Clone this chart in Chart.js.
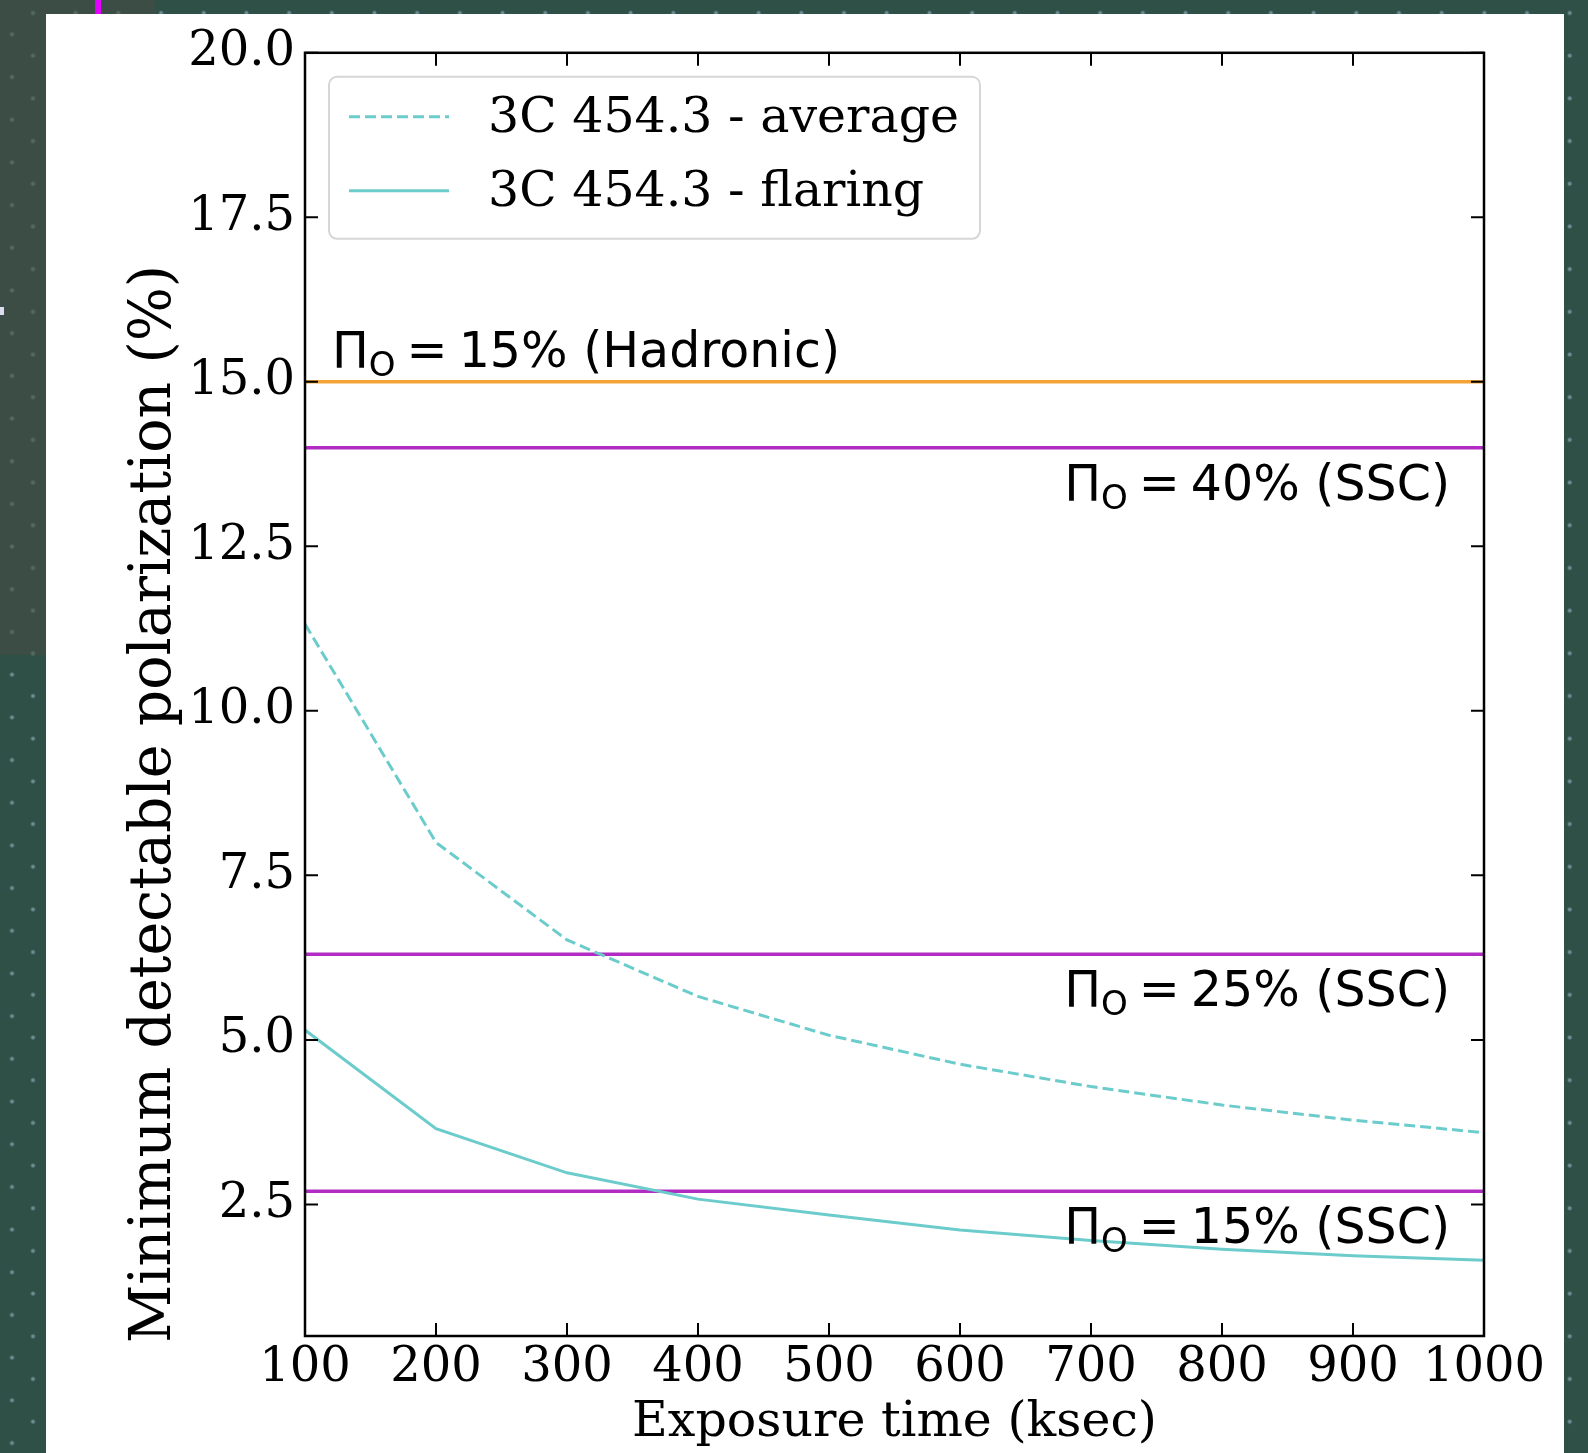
<!DOCTYPE html>
<html>
<head>
<meta charset="utf-8">
<script src="https://cdn.jsdelivr.net/npm/chart.js@4"></script>
<style>
  html, body { margin: 0; padding: 0; }
  body {
    width: 1588px; height: 1453px; position: relative; overflow: hidden;
    background-color: #2f5046;
    background-image:
      radial-gradient(circle, #6a8d92 1.6px, rgba(0,0,0,0) 2.4px),
      radial-gradient(circle, #6a8d92 1.6px, rgba(0,0,0,0) 2.4px);
    background-size: 42.7px 42.7px, 42.7px 42.7px;
    background-position: 11.65px -8.35px, -9.35px 13px;
  }
  #shade {
    position: absolute; left: 0; top: 0; width: 155px; height: 655px;
    background-color: #3b4d45;
    background-image:
      radial-gradient(circle, #56695f 1.6px, rgba(0,0,0,0) 2.6px),
      radial-gradient(circle, #56695f 1.6px, rgba(0,0,0,0) 2.6px);
    background-size: 42.7px 42.7px, 42.7px 42.7px;
    background-position: 11.65px -8.35px, -9.35px 13px;
  }
  #mark { position: absolute; left: 95px; top: 0; width: 6px; height: 14px; background: #e200ff; }
  #dot { position: absolute; left: 0; top: 307px; width: 4px; height: 8px; background: #dcdcf0; }
  #card { position: absolute; left: 46px; top: 14px; width: 1518px; height: 1439px; background: #fff; }
  canvas { display: block; }
</style>
</head>
<body>
<div id="shade"></div>
<div id="mark"></div>
<div id="dot"></div>
<div id="card"><canvas id="mdp" width="1518" height="1439"></canvas></div>
<script>
// exposure time (ksec)
const exposure = [100, 200, 300, 400, 500, 600, 700, 800, 900, 1000];
// minimum detectable polarization (%)
const mdpAverage = [11.32, 8.00, 6.52, 5.66, 5.07, 4.63, 4.29, 4.01, 3.78, 3.59];
const mdpFlaring = [5.15, 3.65, 2.98, 2.58, 2.34, 2.11, 1.95, 1.82, 1.72, 1.65];
const seriesNames = ['3C 454.3 - average', '3C 454.3 - flaring'];

// reference levels and their labels
const refLevels = [15.0, 14.0, 6.3, 2.7];
const refLabels = ['15% (Hadronic)', '40% (SSC)', '25% (SSC)', '15% (SSC)'];
const refColors = ['#f4a436', '#b12cc2', '#b12cc2', '#b12cc2'];

const xTicks = [100, 200, 300, 400, 500, 600, 700, 800, 900, 1000];
const yTicks = [2.5, 5.0, 7.5, 10.0, 12.5, 15.0, 17.5, 20.0];

const TEAL = '#6ccccc';
const SERIF = '"DejaVu Serif", serif';
const SANS = '"DejaVu Sans", sans-serif';

const curves = [
  { label: seriesNames[0], data: exposure.map((x, i) => ({ x, y: mdpAverage[i] })),
    borderColor: TEAL, borderWidth: 3, borderDash: [11, 5], pointRadius: 0, tension: 0, order: 1 },
  { label: seriesNames[1], data: exposure.map((x, i) => ({ x, y: mdpFlaring[i] })),
    borderColor: TEAL, borderWidth: 3, pointRadius: 0, tension: 0, order: 1 }
];
const refSets = refLevels.map((v, i) => ({
  label: 'ref' + i,
  data: [{ x: xTicks[0], y: v }, { x: xTicks[xTicks.length - 1], y: v }],
  borderColor: refColors[i], borderWidth: 3.5, pointRadius: 0, order: 2
}));

// Pi_O = ... label with subscript
function drawPiLabel(ctx, x, y, text, alignRight) {
  const big = '49px ' + SANS, small = '34px ' + SANS;
  ctx.font = big; const wPi = ctx.measureText('Π').width;
  const wEq = ctx.measureText('=').width;
  const wTxt = ctx.measureText(text).width;
  ctx.font = small; const wO = ctx.measureText('O').width;
  const gap = 11;
  const total = wPi + wO + gap + wEq + gap + wTxt;
  let cx = alignRight ? x - total : x;
  ctx.fillStyle = '#000';
  ctx.textBaseline = 'alphabetic';
  ctx.textAlign = 'left';
  ctx.font = big; ctx.fillText('Π', cx, y); cx += wPi;
  ctx.font = small; ctx.fillText('O', cx, y + 9); cx += wO + gap;
  ctx.font = big; ctx.fillText('=', cx, y); cx += wEq + gap;
  ctx.fillText(text, cx, y);
}

const framePlugin = {
  id: 'frame',
  afterDraw(chart) {
    const { ctx, chartArea: a, scales: { x, y } } = chart;
    ctx.save();
    // inward ticks on all four sides
    ctx.strokeStyle = '#000';
    ctx.lineWidth = 2;
    const tl = 13;
    ctx.beginPath();
    xTicks.forEach(v => {
      const px = x.getPixelForValue(v);
      ctx.moveTo(px, a.bottom); ctx.lineTo(px, a.bottom - tl);
      ctx.moveTo(px, a.top); ctx.lineTo(px, a.top + tl);
    });
    yTicks.forEach(v => {
      const py = y.getPixelForValue(v);
      ctx.moveTo(a.left, py); ctx.lineTo(a.left + tl, py);
      ctx.moveTo(a.right, py); ctx.lineTo(a.right - tl, py);
    });
    ctx.stroke();
    ctx.lineWidth = 2.5;
    ctx.strokeRect(a.left, a.top, a.right - a.left, a.bottom - a.top);

    // reference line labels
    drawPiLabel(ctx, a.left + 27, y.getPixelForValue(refLevels[0]) - 15, refLabels[0], false);
    for (let i = 1; i < refLevels.length; i++) {
      drawPiLabel(ctx, a.right - 34, y.getPixelForValue(refLevels[i]) + 52, refLabels[i], true);
    }

    // legend
    const lx = a.left + 24, ly = a.top + 24, lw = 651, lh = 162;
    ctx.fillStyle = 'rgba(255,255,255,0.85)';
    ctx.strokeStyle = '#d6d6d6';
    ctx.lineWidth = 2;
    ctx.beginPath();
    ctx.roundRect(lx, ly, lw, lh, 8);
    ctx.fill(); ctx.stroke();
    curves.forEach((c, i) => {
      const ry = ly + 40 + i * 74;
      ctx.strokeStyle = c.borderColor;
      ctx.lineWidth = c.borderWidth;
      ctx.setLineDash(c.borderDash || []);
      ctx.beginPath(); ctx.moveTo(lx + 20, ry); ctx.lineTo(lx + 120, ry); ctx.stroke();
      ctx.setLineDash([]);
      ctx.fillStyle = '#000';
      ctx.font = '49px ' + SERIF;
      ctx.textAlign = 'left';
      ctx.textBaseline = 'middle';
      ctx.fillText(c.label, lx + 159, ry + 2);
    });

    // axis titles
    ctx.fillStyle = '#000';
    ctx.font = '49px ' + SERIF;
    ctx.textAlign = 'center';
    ctx.textBaseline = 'alphabetic';
    ctx.fillText('Exposure time (ksec)', (a.left + a.right) / 2, 1422);
    ctx.font = '57px ' + SERIF;
    ctx.translate(124, 790);
    ctx.rotate(-Math.PI / 2);
    ctx.fillText('Minimum detectable polarization (%)', 0, 0);
    ctx.restore();
  }
};

new Chart(document.getElementById('mdp'), {
  type: 'line',
  data: { datasets: [...curves, ...refSets] },
  options: {
    responsive: false,
    animation: false,
    layout: { padding: { top: 36, right: 80, left: 0, bottom: 0 } },
    plugins: { legend: { display: false }, tooltip: { enabled: false } },
    scales: {
      x: {
        type: 'linear', min: 100, max: 1000,
        afterBuildTicks: s => { s.ticks = xTicks.map(v => ({ value: v })); },
        afterFit: s => { s.height = 117; },
        grid: { display: false, drawTicks: false },
        border: { display: false },
        ticks: { color: '#000', font: { family: SERIF, size: 48 }, padding: 4, maxRotation: 0, autoSkip: false,
                 callback: v => String(v) }
      },
      y: {
        type: 'linear', min: 0.5, max: 20,
        afterBuildTicks: s => { s.ticks = yTicks.map(v => ({ value: v })); },
        afterFit: s => { s.width = 259; },
        grid: { display: false, drawTicks: false },
        border: { display: false },
        ticks: { color: '#000', font: { family: SERIF, size: 48 }, padding: 10, autoSkip: false,
                 callback: v => Number(v).toFixed(1) }
      }
    }
  },
  plugins: [framePlugin]
});
</script>
</body>
</html>
